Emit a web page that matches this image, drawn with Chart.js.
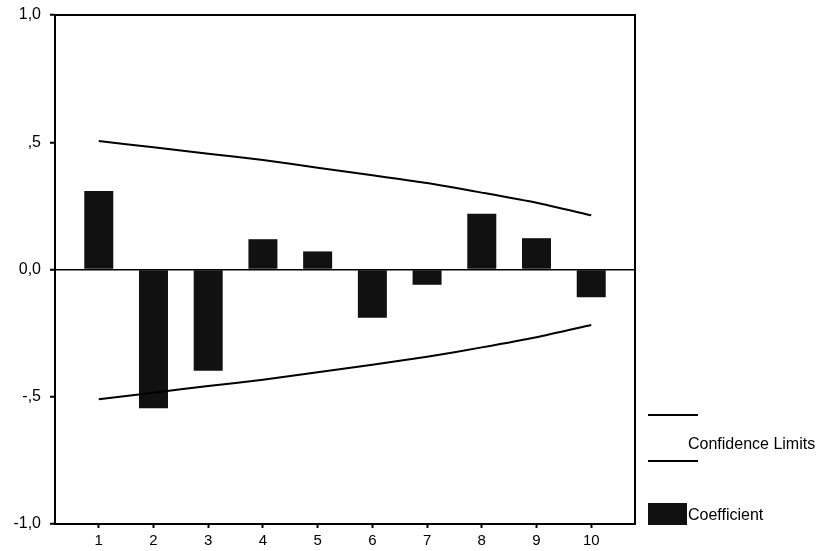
<!DOCTYPE html>
<html>
<head>
<meta charset="utf-8">
<script src="https://cdn.jsdelivr.net/npm/chart.js@4/dist/chart.umd.min.js"></script>
<style>
  html, body { margin: 0; padding: 0; background: #fff; }
  #wrap { width: 819px; height: 551px; }
</style>
</head>
<body>
<div id="wrap"><canvas id="acf" width="819" height="551"></canvas></div>
<script>
// Autocorrelation by lag, with upper and lower confidence limits
const lags = [1, 2, 3, 4, 5, 6, 7, 8, 9, 10];
const coefficient = [0.308, -0.545, -0.398, 0.119, 0.071, -0.190, -0.060, 0.219, 0.123, -0.109];
const upperLimit = [0.505, 0.480, 0.455, 0.430, 0.400, 0.370, 0.340, 0.302, 0.262, 0.213];
const lowerLimit = [-0.510, -0.484, -0.458, -0.433, -0.404, -0.374, -0.343, -0.306, -0.266, -0.218];
const yTickValues = [-1, -0.5, 0, 0.5, 1];
const yTickLabels = ['-1,0', '-,5', '0,0', ',5', '1,0'];

const FONT = "'Liberation Sans', Arial, Helvetica, sans-serif";
const pts = (vals) => lags.map((x, i) => ({ x: x, y: vals[i] }));

// Frame around the plot area plus the side legend
const framePlugin = {
  id: 'frame',
  afterDatasetsDraw(chart) {
    const { ctx, chartArea: a } = chart;
    ctx.save();
    ctx.strokeStyle = '#000';
    ctx.lineWidth = 2;
    ctx.strokeRect(a.left, a.top, a.right - a.left, a.bottom - a.top);
    ctx.restore();
  },
  afterDraw(chart) {
    const { ctx, chartArea: a } = chart;
    const ds = chart.data.datasets;
    const x0 = a.right + 13;
    ctx.save();
    ctx.strokeStyle = '#000';
    ctx.lineWidth = 2;
    ctx.beginPath();
    ctx.moveTo(x0, 415); ctx.lineTo(x0 + 50, 415);
    ctx.moveTo(x0, 461); ctx.lineTo(x0 + 50, 461);
    ctx.stroke();
    ctx.fillStyle = '#111';
    ctx.fillRect(x0, 503, 39, 22);
    ctx.fillStyle = '#000';
    ctx.font = '16px ' + FONT;
    ctx.textBaseline = 'middle';
    ctx.textAlign = 'left';
    ctx.fillText(ds[1].label, x0 + 40, 445);
    ctx.fillText(ds[0].label, x0 + 40, 516);
    ctx.restore();
  }
};

new Chart(document.getElementById('acf'), {
  type: 'bar',
  data: {
    datasets: [
      {
        type: 'bar',
        label: 'Coefficient',
        data: pts(coefficient),
        backgroundColor: '#111',
        borderWidth: 0,
        barPercentage: 0.53,
        categoryPercentage: 1.0,
        order: 2
      },
      {
        type: 'line',
        label: 'Confidence Limits',
        data: pts(upperLimit),
        borderColor: '#000',
        borderWidth: 2,
        pointRadius: 0,
        fill: false,
        tension: 0.2,
        order: 1
      },
      {
        type: 'line',
        label: 'Confidence Limits',
        data: pts(lowerLimit),
        borderColor: '#000',
        borderWidth: 2,
        pointRadius: 0,
        fill: false,
        tension: 0.2,
        order: 1
      }
    ]
  },
  options: {
    responsive: false,
    animation: false,
    layout: { padding: { top: 15, right: 184, left: 0, bottom: 0 } },
    plugins: { legend: { display: false }, tooltip: { enabled: false } },
    scales: {
      x: {
        type: 'linear',
        offset: false,
        min: 0.2,
        max: 10.8,
        afterBuildTicks(scale) { scale.ticks = lags.map(v => ({ value: v })); },
        afterFit(scale) { scale.height = 27; scale.paddingLeft = 0; scale.paddingRight = 0; },
        ticks: {
          color: '#000',
          font: { family: FONT, size: 15 },
          padding: 4,
          maxRotation: 0,
          callback: (v) => String(v)
        },
        grid: { offset: false, drawOnChartArea: false, drawTicks: true, tickLength: 4, tickColor: '#000', tickWidth: 2 },
        border: { display: true, color: '#000', width: 2 }
      },
      y: {
        min: -1,
        max: 1,
        afterBuildTicks(scale) { scale.ticks = yTickValues.map(v => ({ value: v })); },
        afterFit(scale) { scale.width = 55; scale.paddingTop = 0; scale.paddingBottom = 0; },
        ticks: {
          color: '#000',
          font: { family: FONT, size: 16 },
          padding: 9,
          callback: (v) => yTickLabels[yTickValues.indexOf(v)]
        },
        grid: {
          drawOnChartArea: true,
          drawTicks: true,
          tickLength: 5,
          tickColor: '#000',
          tickWidth: 2,
          color: (c) => (c.tick && c.tick.value === 0 ? '#000' : 'rgba(0,0,0,0)'),
          lineWidth: 1.5
        },
        border: { display: true, color: '#000', width: 2 }
      }
    }
  },
  plugins: [framePlugin]
});
</script>
</body>
</html>
